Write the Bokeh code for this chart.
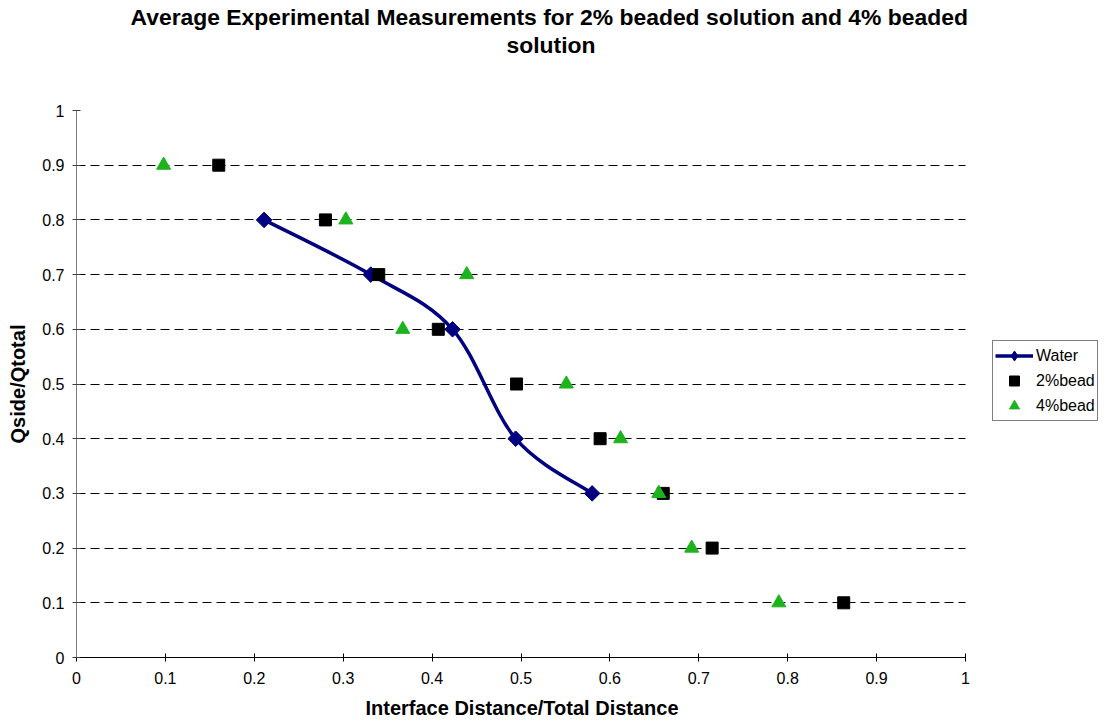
from bokeh.plotting import figure
from bokeh.models import (Title, Legend, LegendItem, FixedTicker, NumeralTickFormatter,
                          Range1d, ColumnDataSource, BoxAnnotation)
from bokeh.embed import file_html
from bokeh.resources import INLINE
import numpy as np

# ---- data ----
water_x = [0.211, 0.331, 0.423, 0.494, 0.580]
water_y = [0.8, 0.7, 0.6, 0.4, 0.3]

bead2_x = [0.160, 0.280, 0.340, 0.407, 0.495, 0.589, 0.660, 0.715, 0.863]
bead2_y = [0.9, 0.8, 0.7, 0.6, 0.5, 0.4, 0.3, 0.2, 0.1]

bead4_x = [0.098, 0.303, 0.439, 0.367, 0.551, 0.612, 0.655, 0.692, 0.790]
bead4_y = [0.9, 0.8, 0.7, 0.6, 0.5, 0.4, 0.3, 0.2, 0.1]

ticks = [0, 0.1, 0.2, 0.3, 0.4, 0.5, 0.6, 0.7, 0.8, 0.9, 1]

title_line1 = "Average Experimental Measurements for 2% beaded solution and 4% beaded"
title_line2 = "solution"
x_title = "Interface Distance/Total Distance"
y_title = "Qside/Qtotal"

NAVY = "#000080"
GREEN = "#1DB31D"
FONT = "Liberation Sans"

# frame spans to the right edge so the legend can sit inside it; the axis stops at 1
X_END = (1109 - 76) / 889.0
p = figure(width=1109, height=726, output_backend="svg", toolbar_location=None,
           x_range=Range1d(0, X_END), y_range=Range1d(0, 1),
           min_border_left=76, min_border_right=0, min_border_bottom=69, min_border_top=110)
p.outline_line_color = None
p.background_fill_color = "white"
p.border_fill_color = "white"

# titles (spacer first = nearest to frame, then line 2, then line 1 as plot title)
spacer_top = Title(text=" ", text_font=FONT, text_font_size="45px", standoff=0)
p.add_layout(spacer_top, "above")
t2 = Title(text=title_line2, text_font=FONT, text_font_size="22.9px", text_font_style="bold",
           text_color="black", align="left", offset=430, standoff=0)
p.add_layout(t2, "above")
p.title.text = title_line1
p.title.text_font = FONT
p.title.text_font_size = "22.9px"
p.title.text_font_style = "bold"
p.title.text_color = "black"
p.title.align = "left"
p.title.offset = 54
p.title.standoff = 0

# axes
for ax in (p.xaxis, p.yaxis):
    ax.ticker = FixedTicker(ticks=ticks)
    ax.formatter = NumeralTickFormatter(format="0.[0]")
    ax.major_label_text_font = FONT
    ax.major_label_text_font_size = "16px"
    ax.major_label_text_color = "black"
    ax.axis_label_text_font = FONT
    ax.axis_label_text_font_size = "20px"
    ax.axis_label_text_font_style = "bold"
    ax.axis_label_text_color = "black"
    ax.major_tick_in = 4
    ax.major_tick_out = 4
    ax.minor_tick_line_color = None
    ax.axis_line_width = 1
    ax.major_tick_line_width = 1

p.xaxis.bounds = (0, 1)
p.yaxis.axis_label = y_title
p.xaxis.axis_line_color = "black"
p.xaxis.major_tick_line_color = "black"
p.yaxis.axis_line_color = "#808080"
p.yaxis.major_tick_line_color = "#404040"
p.xaxis.major_label_standoff = 10
p.yaxis.major_label_standoff = 8
p.yaxis.axis_label_standoff = 10

# x-axis title, placed under the 0..1 part of the frame
xt = Title(text=x_title, text_font=FONT, text_font_size="20px", text_font_style="bold",
           text_color="black", align="left", offset=289, standoff=16)
p.add_layout(xt, "below")

p.xgrid.grid_line_color = None
p.ygrid.ticker = FixedTicker(ticks=ticks)
p.ygrid.grid_line_color = "black"
p.ygrid.grid_line_dash = "9 5"
p.ygrid.grid_line_width = 1

# white mask over the part of the frame right of x = 1 (hides grid there)
p.add_layout(BoxAnnotation(left=1, fill_color="white", fill_alpha=1, line_color=None, level="underlay"))

# smoothed water line (Bezier segments computed from the data points)
wx = np.array(water_x)
wy = np.array(water_y)
n = len(wx)
x0, y0, x1, y1, cx0, cy0, cx1, cy1 = [], [], [], [], [], [], [], []
for i in range(n - 1):
    ip = max(i - 1, 0)
    inx = min(i + 2, n - 1)
    x0.append(wx[i]); y0.append(wy[i])
    x1.append(wx[i + 1]); y1.append(wy[i + 1])
    cx0.append(wx[i] + (wx[i + 1] - wx[ip]) / 6)
    cy0.append(wy[i] + (wy[i + 1] - wy[ip]) / 6)
    cx1.append(wx[i + 1] - (wx[inx] - wx[i]) / 6)
    cy1.append(wy[i + 1] - (wy[inx] - wy[i]) / 6)
bz_src = ColumnDataSource(dict(x0=x0, y0=y0, x1=x1, y1=y1, cx0=cx0, cy0=cy0, cx1=cx1, cy1=cy1))
bz = p.bezier(x0="x0", y0="y0", x1="x1", y1="y1", cx0="cx0", cy0="cy0", cx1="cx1", cy1="cy1",
              source=bz_src, line_color=NAVY, line_width=3.5)

# legend proxies, hidden under the first water marker
leg_line = p.line([water_x[0], water_x[0]], [water_y[0], water_y[0]], line_color=NAVY, line_width=3.5)
leg_dia = p.scatter([water_x[0]], [water_y[0]], marker="diamond", size=11,
                    fill_color=NAVY, line_color=NAVY)

wd = p.scatter(water_x, water_y, marker="square", angle=np.pi / 4, size=11,
               fill_color=NAVY, line_color=NAVY)

sq = p.scatter(bead2_x, bead2_y, marker="square", size=12, fill_color="black", line_color="black")
tr = p.scatter(bead4_x, bead4_y, marker="triangle", size=14, fill_color=GREEN, line_color=GREEN)

legend = Legend(items=[
    LegendItem(label="Water", renderers=[leg_line, leg_dia]),
    LegendItem(label="2%bead", renderers=[sq]),
    LegendItem(label="4%bead", renderers=[tr]),
], location=(916, 236))
legend.label_text_font = FONT
legend.label_text_font_size = "16px"
legend.label_text_color = "black"
legend.label_standoff = 3
legend.glyph_width = 38
legend.glyph_height = 25
legend.spacing = 0
legend.padding = 2
legend.margin = 0
legend.border_line_color = "black"
legend.border_line_width = 1
legend.background_fill_alpha = 1
p.add_layout(legend, "center")

open("out.html", "w").write(file_html(p, INLINE))
